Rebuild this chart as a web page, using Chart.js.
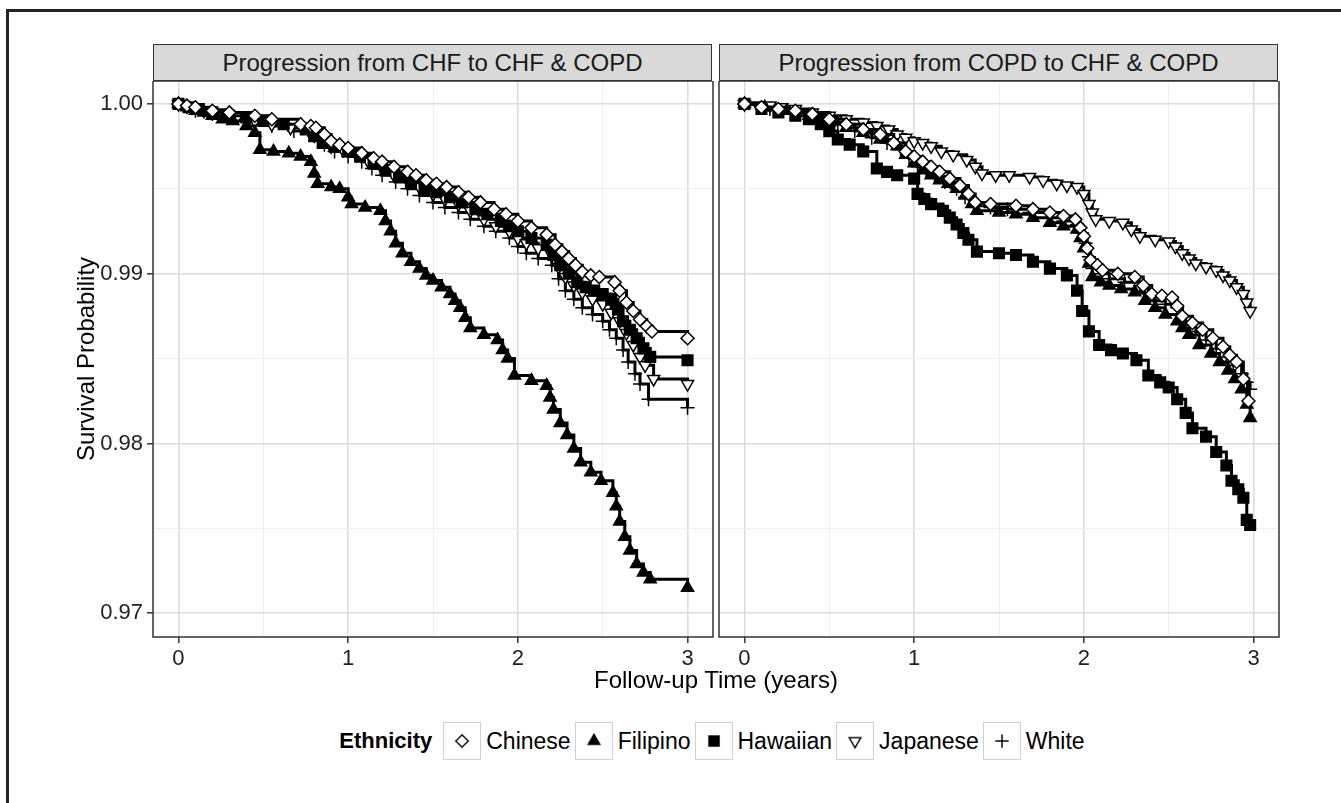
<!DOCTYPE html>
<html>
<head>
<meta charset="utf-8">
<script src="https://cdn.jsdelivr.net/npm/chart.js@4.4.1/dist/chart.umd.min.js"></script>
<style>
  body { margin: 0; background: #fff; font-family: "Liberation Sans", Arial, sans-serif; }
  #wrap { position: relative; width: 1341px; height: 803px; overflow: hidden; }
  #frame { position: absolute; left: 6px; top: 9px; width: 1400px; height: 900px;
           border-left: 3px solid #222; border-top: 3px solid #222; }
  .strip { position: absolute; top: 44px; height: 35px; background: #d9d9d9;
           border: 1.5px solid #333; text-align: center; line-height: 36px;
           font-size: 24px; color: #1a1a1a; }
  canvas { position: absolute; }
  #xTitle { position: absolute; left: 153px; width: 1126px; top: 666px; text-align: center;
            font-size: 24px; color: #000; }
  #yTitle { position: absolute; left: 86px; top: 359px; transform: translate(-50%, -50%) rotate(-90deg);
            font-size: 24px; white-space: nowrap; color: #000; }
  #legend { position: absolute; left: 0; width: 1428px; top: 722px; display: flex;
            justify-content: center; align-items: center; font-size: 23px; }
  #legend .title { font-weight: bold; margin-right: 11px; font-size: 22px; }
  #legend .key { width: 38px; height: 38px; border: 1px solid #d0d0d0; box-sizing: border-box; }
  #legend .lab { margin: 0 4px 0 5px; }
</style>
</head>
<body>
<div id="wrap">
  <div id="frame"></div>
  <div class="strip" id="strip0" style="left:153px; width:557px;"></div>
  <div class="strip" id="strip1" style="left:719px; width:557px;"></div>
  <canvas id="chfChart" width="716" height="600" style="left:0; top:81px;"></canvas>
  <canvas id="copdChart" width="600" height="600" style="left:716px; top:81px;"></canvas>
  <div id="xTitle">Follow-up Time (years)</div>
  <div id="yTitle">Survival Probability</div>
  <div id="legend"></div>
</div>
<script>
const panelTitles = ['Progression from CHF to CHF & COPD', 'Progression from COPD to CHF & COPD'];
const ethnicities = ['Chinese', 'Filipino', 'Hawaiian', 'Japanese', 'White'];
const legendTitle = 'Ethnicity';

// CHF -> CHF & COPD (years, survival probability)
const chfChineseT = [0, 0.05, 0.1, 0.2, 0.3, 0.45, 0.55, 0.72, 0.78, 0.81, 0.86, 0.9, 0.95, 1.0, 1.08, 1.15, 1.2, 1.27, 1.35, 1.4, 1.46, 1.52, 1.58, 1.65, 1.71, 1.78, 1.86, 1.93, 2.0, 2.08, 2.17, 2.22, 2.26, 2.3, 2.34, 2.38, 2.43, 2.48, 2.57, 2.6, 2.64, 2.68, 2.72, 2.76, 2.79, 3.0];
const chfChineseS = [1.0, 0.9999, 0.9998, 0.9996, 0.9995, 0.9993, 0.9991, 0.9988, 0.9987, 0.9986, 0.9982, 0.9978, 0.9976, 0.9974, 0.9971, 0.9968, 0.9966, 0.9963, 0.9960, 0.9958, 0.9955, 0.9953, 0.9951, 0.9948, 0.9945, 0.9942, 0.9938, 0.9935, 0.9931, 0.9927, 0.9923, 0.9917, 0.9913, 0.9909, 0.9905, 0.9901, 0.9899, 0.9898, 0.9895, 0.9890, 0.9883, 0.9878, 0.9873, 0.9869, 0.9866, 0.9862];
const chfFilipinoT = [0, 0.05, 0.1, 0.15, 0.2, 0.26, 0.32, 0.4, 0.45, 0.48, 0.56, 0.65, 0.72, 0.78, 0.8, 0.82, 0.9, 0.95, 1.0, 1.02, 1.1, 1.19, 1.22, 1.25, 1.28, 1.32, 1.37, 1.42, 1.46, 1.5, 1.55, 1.6, 1.63, 1.66, 1.69, 1.72, 1.8, 1.88, 1.91, 1.94, 1.98, 2.08, 2.17, 2.19, 2.21, 2.25, 2.29, 2.33, 2.37, 2.43, 2.49, 2.56, 2.58, 2.6, 2.63, 2.66, 2.7, 2.74, 2.78, 3.0];
const chfFilipinoS = [1.0, 0.9998, 0.9996, 0.9995, 0.9993, 0.9991, 0.9990, 0.9987, 0.9983, 0.9973, 0.9972, 0.9971, 0.9969, 0.9966, 0.9959, 0.9953, 0.9951, 0.9950, 0.9945, 0.9941, 0.9939, 0.9937, 0.9931, 0.9925, 0.9918, 0.9912, 0.9907, 0.9903, 0.9899, 0.9896, 0.9892, 0.9888, 0.9884, 0.9880, 0.9874, 0.9868, 0.9864, 0.9861, 0.9855, 0.9850, 0.9840, 0.9837, 0.9834, 0.9827, 0.9820, 0.9812, 0.9805, 0.9797, 0.9789, 0.9783, 0.9778, 0.9771, 0.9763, 0.9754, 0.9745, 0.9737, 0.9729, 0.9724, 0.9720, 0.9715];
const chfHawaiianT = [0, 0.06, 0.12, 0.2, 0.3, 0.4, 0.5, 0.62, 0.75, 0.8, 0.85, 0.92, 1.0, 1.07, 1.15, 1.22, 1.3, 1.37, 1.45, 1.52, 1.6, 1.67, 1.75, 1.82, 1.9, 1.95, 2.0, 2.08, 2.17, 2.21, 2.25, 2.3, 2.35, 2.4, 2.45, 2.5, 2.55, 2.59, 2.62, 2.66, 2.7, 2.74, 2.78, 3.0];
const chfHawaiianS = [1.0, 0.9998, 0.9997, 0.9995, 0.9993, 0.9992, 0.9990, 0.9988, 0.9985, 0.9981, 0.9977, 0.9975, 0.9972, 0.9969, 0.9965, 0.9961, 0.9957, 0.9954, 0.9950, 0.9948, 0.9945, 0.9942, 0.9938, 0.9935, 0.9931, 0.9928, 0.9925, 0.9921, 0.9917, 0.9911, 0.9905, 0.9900, 0.9895, 0.9892, 0.9890, 0.9888, 0.9885, 0.9879, 0.9872, 0.9867, 0.9862, 0.9856, 0.9851, 0.9849];
const chfJapaneseT = [0, 0.08, 0.15, 0.25, 0.35, 0.45, 0.55, 0.66, 0.78, 0.84, 0.9, 0.97, 1.05, 1.12, 1.2, 1.27, 1.35, 1.42, 1.5, 1.57, 1.65, 1.72, 1.8, 1.87, 1.95, 2.0, 2.05, 2.12, 2.2, 2.24, 2.28, 2.33, 2.38, 2.44, 2.5, 2.55, 2.6, 2.64, 2.68, 2.72, 2.75, 2.8, 3.0];
const chfJapaneseS = [1.0, 0.9998, 0.9996, 0.9995, 0.9993, 0.9990, 0.9988, 0.9986, 0.9983, 0.9979, 0.9975, 0.9973, 0.9970, 0.9966, 0.9962, 0.9958, 0.9955, 0.9951, 0.9947, 0.9944, 0.9941, 0.9937, 0.9932, 0.9928, 0.9925, 0.9921, 0.9918, 0.9915, 0.9911, 0.9904, 0.9898, 0.9893, 0.9889, 0.9885, 0.9882, 0.9877, 0.9872, 0.9865, 0.9858, 0.9851, 0.9846, 0.9838, 0.9835];
const chfWhiteT = [0, 0.05, 0.1, 0.2, 0.3, 0.42, 0.55, 0.68, 0.8, 0.86, 0.92, 1.0, 1.08, 1.14, 1.2, 1.28, 1.35, 1.42, 1.5, 1.57, 1.65, 1.72, 1.8, 1.87, 1.95, 2.0, 2.05, 2.12, 2.2, 2.24, 2.28, 2.33, 2.38, 2.44, 2.5, 2.54, 2.58, 2.62, 2.65, 2.69, 2.72, 2.77, 3.0];
const chfWhiteS = [1.0, 0.9998, 0.9996, 0.9994, 0.9992, 0.9990, 0.9987, 0.9984, 0.9981, 0.9976, 0.9972, 0.9969, 0.9966, 0.9962, 0.9958, 0.9954, 0.9950, 0.9946, 0.9942, 0.9939, 0.9936, 0.9932, 0.9928, 0.9925, 0.9921, 0.9916, 0.9912, 0.9909, 0.9905, 0.9897, 0.9890, 0.9885, 0.9880, 0.9876, 0.9872, 0.9867, 0.9862, 0.9855, 0.9848, 0.9841, 0.9835, 0.9826, 0.9821];

// COPD -> CHF & COPD
const copdChineseT = [0, 0.1, 0.2, 0.3, 0.4, 0.5, 0.6, 0.7, 0.8, 0.88, 0.95, 1.0, 1.05, 1.1, 1.15, 1.21, 1.27, 1.32, 1.36, 1.45, 1.6, 1.7, 1.8, 1.88, 1.95, 1.98, 2.0, 2.02, 2.04, 2.08, 2.11, 2.2, 2.3, 2.35, 2.4, 2.46, 2.52, 2.55, 2.58, 2.64, 2.7, 2.76, 2.82, 2.86, 2.9, 2.94, 2.97];
const copdChineseS = [1.0, 0.9998, 0.9997, 0.9996, 0.9994, 0.9991, 0.9988, 0.9985, 0.9982, 0.9977, 0.9972, 0.9969, 0.9966, 0.9963, 0.9960, 0.9956, 0.9952, 0.9947, 0.9942, 0.9941, 0.9940, 0.9938, 0.9936, 0.9934, 0.9932, 0.9927, 0.9922, 0.9915, 0.9908, 0.9905, 0.9902, 0.9900, 0.9898, 0.9893, 0.9888, 0.9887, 0.9886, 0.9881, 0.9875, 0.9871, 0.9867, 0.9862, 0.9857, 0.9852, 0.9848, 0.9838, 0.9825];
const copdFilipinoT = [0, 0.12, 0.25, 0.38, 0.5, 0.6, 0.7, 0.8, 0.9, 0.95, 1.0, 1.05, 1.1, 1.15, 1.2, 1.25, 1.3, 1.34, 1.37, 1.5, 1.6, 1.7, 1.8, 1.88, 1.96, 1.98, 2.0, 2.03, 2.05, 2.1, 2.15, 2.22, 2.3, 2.36, 2.42, 2.48, 2.55, 2.58, 2.62, 2.68, 2.75, 2.8, 2.85, 2.89, 2.93, 2.96, 2.98];
const copdFilipinoS = [1.0, 0.9998, 0.9996, 0.9993, 0.9989, 0.9986, 0.9983, 0.9979, 0.9975, 0.9970, 0.9965, 0.9961, 0.9958, 0.9955, 0.9953, 0.9950, 0.9946, 0.9941, 0.9937, 0.9936, 0.9935, 0.9933, 0.9930, 0.9928, 0.9926, 0.9921, 0.9915, 0.9906, 0.9898, 0.9895, 0.9893, 0.9891, 0.9889, 0.9884, 0.9880, 0.9876, 0.9872, 0.9868, 0.9864, 0.9858, 0.9853, 0.9848, 0.9843, 0.9838, 0.9832, 0.9823, 0.9815];
const copdHawaiianT = [0, 0.1, 0.2, 0.3, 0.38, 0.45, 0.5, 0.55, 0.62, 0.7, 0.78, 0.84, 0.9, 1.0, 1.02, 1.06, 1.1, 1.17, 1.21, 1.25, 1.29, 1.32, 1.37, 1.5, 1.6, 1.7, 1.8, 1.9, 1.96, 1.99, 2.03, 2.09, 2.16, 2.23, 2.31, 2.38, 2.45, 2.5, 2.55, 2.6, 2.64, 2.72, 2.78, 2.84, 2.87, 2.91, 2.94, 2.96, 2.98];
const copdHawaiianS = [1.0, 0.9997, 0.9995, 0.9993, 0.9991, 0.9988, 0.9984, 0.9979, 0.9976, 0.9972, 0.9962, 0.9960, 0.9958, 0.9956, 0.9947, 0.9944, 0.9941, 0.9937, 0.9933, 0.9929, 0.9924, 0.9920, 0.9913, 0.9912, 0.9911, 0.9907, 0.9903, 0.9899, 0.9890, 0.9878, 0.9866, 0.9858, 0.9855, 0.9853, 0.9849, 0.9840, 0.9836, 0.9833, 0.9826, 0.9818, 0.9809, 0.9804, 0.9795, 0.9787, 0.9778, 0.9773, 0.9768, 0.9755, 0.9752];
const copdJapaneseT = [0, 0.08, 0.15, 0.22, 0.3, 0.4, 0.5, 0.6, 0.7, 0.78, 0.85, 0.9, 0.95, 1.0, 1.05, 1.1, 1.16, 1.23, 1.31, 1.36, 1.4, 1.48, 1.56, 1.68, 1.76, 1.84, 1.9, 1.96, 2.0, 2.03, 2.05, 2.07, 2.15, 2.23, 2.28, 2.33, 2.42, 2.5, 2.54, 2.58, 2.62, 2.66, 2.72, 2.78, 2.82, 2.86, 2.9, 2.94, 2.96, 2.98];
const copdJapaneseS = [1.0, 0.9999, 0.9999, 0.9998, 0.9997, 0.9995, 0.9993, 0.9991, 0.9989, 0.9987, 0.9985, 0.9982, 0.9980, 0.9978, 0.9977, 0.9975, 0.9972, 0.9970, 0.9967, 0.9963, 0.9959, 0.9958, 0.9958, 0.9957, 0.9955, 0.9953, 0.9952, 0.9951, 0.9947, 0.9941, 0.9936, 0.9932, 0.9931, 0.9930, 0.9926, 0.9922, 0.9920, 0.9919, 0.9916, 0.9912, 0.9909, 0.9906, 0.9904, 0.9902, 0.9899, 0.9896, 0.9892, 0.9888, 0.9883, 0.9878];
const copdWhiteT = [0, 0.15, 0.3, 0.42, 0.55, 0.65, 0.75, 0.84, 0.92, 0.97, 1.02, 1.07, 1.12, 1.18, 1.25, 1.3, 1.35, 1.45, 1.55, 1.68, 1.8, 1.88, 1.96, 1.99, 2.01, 2.03, 2.05, 2.1, 2.15, 2.24, 2.33, 2.38, 2.42, 2.48, 2.55, 2.58, 2.6, 2.66, 2.72, 2.78, 2.84, 2.88, 2.93, 2.96, 2.98];
const copdWhiteS = [1.0, 0.9997, 0.9995, 0.9992, 0.9988, 0.9984, 0.9980, 0.9977, 0.9973, 0.9968, 0.9963, 0.9960, 0.9957, 0.9954, 0.9950, 0.9945, 0.9940, 0.9939, 0.9938, 0.9936, 0.9933, 0.9931, 0.9929, 0.9924, 0.9918, 0.9910, 0.9903, 0.9900, 0.9897, 0.9895, 0.9893, 0.9888, 0.9884, 0.9882, 0.9880, 0.9875, 0.9870, 0.9866, 0.9861, 0.9856, 0.9851, 0.9846, 0.9841, 0.9836, 0.9832];

const xTicks = [0, 1, 2, 3];
const yTicks = [0.97, 0.98, 0.99, 1.00];

const FONT = '"Liberation Sans", Arial, sans-serif';

// marker look per ethnicity (ggplot shapes)
const markers = {
    Chinese:  { pointStyle: 'rectRot',  radius: 6.5, fill: '#fff', rotation: 0 },
    Filipino: { pointStyle: 'triangle', radius: 7,   fill: '#000', rotation: 0 },
    Hawaiian: { pointStyle: 'rect',     radius: 7.5, fill: '#000', rotation: 0 },
    Japanese: { pointStyle: 'triangle', radius: 7,   fill: '#fff', rotation: 180 },
    White:    { pointStyle: 'cross',    radius: 7,   fill: '#000', rotation: 0 }
};

function pts(t, s) {
    return t.map((x, i) => ({ x: x, y: s[i] }));
}

function makeDatasets(list) {
    return list.map(([name, t, s]) => {
        const m = markers[name];
        return {
            label: name,
            data: pts(t, s),
            showLine: true,
            stepped: 'before',
            borderColor: '#000',
            borderWidth: 3,
            pointStyle: m.pointStyle,
            pointRadius: m.radius,
            pointRotation: m.rotation,
            pointBackgroundColor: m.fill,
            pointBorderColor: '#000',
            pointBorderWidth: 1.5,
            pointHoverRadius: m.radius
        };
    });
}

const isMajor = v => Math.abs(v * 100 - Math.round(v * 100)) < 1e-6;
const isMajorX = v => Math.abs(v - Math.round(v)) < 1e-7;

// full box around the panel
const panelBorder = {
    id: 'panelBorder',
    afterDraw(chart) {
        const a = chart.chartArea, ctx = chart.ctx;
        ctx.save();
        ctx.strokeStyle = '#333';
        ctx.lineWidth = 1.5;
        ctx.strokeRect(a.left, a.top, a.right - a.left, a.bottom - a.top);
        ctx.restore();
    }
};

function makeOptions(showY, padRight, yWidth) {
    return {
        responsive: false,
        animation: false,
        layout: { autoPadding: false, padding: { left: 0, right: padRight, top: 0, bottom: 0 } },
        plugins: { legend: { display: false }, tooltip: { enabled: false } },
        scales: {
            x: {
                type: 'linear',
                min: -0.15, max: 3.15,
                afterFit: s => { s.height = 44; s.paddingLeft = 0; s.paddingRight = 0; },
                ticks: {
                    stepSize: 0.5, includeBounds: false, autoSkip: false, maxRotation: 0,
                    padding: 3, color: '#222',
                    font: { family: FONT, size: 22 },
                    callback: v => (isMajorX(v) && xTicks.includes(Math.round(v))) ? String(Math.round(v)) : ''
                },
                grid: {
                    color: c => isMajorX(c.tick.value) ? '#dcdcdc' : '#efefef',
                    lineWidth: c => isMajorX(c.tick.value) ? 1.6 : 1,
                    tickColor: c => isMajorX(c.tick.value) ? '#333' : 'rgba(0,0,0,0)',
                    tickLength: 6, tickWidth: 1.5
                },
                border: { display: false }
            },
            y: {
                type: 'linear',
                min: 0.9686, max: 1.00135,
                afterFit: s => { s.width = yWidth; s.paddingTop = 0; s.paddingBottom = 0; },
                ticks: {
                    display: showY,
                    stepSize: 0.005, includeBounds: false, autoSkip: false,
                    padding: 4, color: '#222',
                    font: { family: FONT, size: 22 },
                    callback: v => {
                        const hit = yTicks.find(t => Math.abs(t - v) < 1e-7);
                        return hit !== undefined ? hit.toFixed(2) : '';
                    }
                },
                grid: {
                    color: c => isMajor(c.tick.value) ? '#dcdcdc' : '#efefef',
                    lineWidth: c => isMajor(c.tick.value) ? 1.6 : 1,
                    tickColor: c => (showY && isMajor(c.tick.value)) ? '#333' : 'rgba(0,0,0,0)',
                    drawTicks: showY,
                    tickLength: 6, tickWidth: 1.5
                },
                border: { display: false }
            }
        }
    };
}

document.getElementById('strip0').textContent = panelTitles[0];
document.getElementById('strip1').textContent = panelTitles[1];

new Chart(document.getElementById('chfChart'), {
    type: 'scatter',
    data: {
        datasets: makeDatasets([
            ['Chinese', chfChineseT, chfChineseS],
            ['Filipino', chfFilipinoT, chfFilipinoS],
            ['Hawaiian', chfHawaiianT, chfHawaiianS],
            ['Japanese', chfJapaneseT, chfJapaneseS],
            ['White', chfWhiteT, chfWhiteS]
        ])
    },
    options: makeOptions(true, 3, 153),
    plugins: [panelBorder]
});

new Chart(document.getElementById('copdChart'), {
    type: 'scatter',
    data: {
        datasets: makeDatasets([
            ['Chinese', copdChineseT, copdChineseS],
            ['Filipino', copdFilipinoT, copdFilipinoS],
            ['Hawaiian', copdHawaiianT, copdHawaiianS],
            ['Japanese', copdJapaneseT, copdJapaneseS],
            ['White', copdWhiteT, copdWhiteS]
        ])
    },
    options: makeOptions(false, 37, 3),
    plugins: [panelBorder]
});

// legend built from the same marker styles
const legend = document.getElementById('legend');
const ttl = document.createElement('span');
ttl.className = 'title';
ttl.textContent = legendTitle;
legend.appendChild(ttl);
ethnicities.forEach(name => {
    const key = document.createElement('canvas');
    key.width = 38; key.height = 38;
    key.className = 'key';
    key.style.position = 'static';
    const kctx = key.getContext('2d');
    const m = markers[name];
    kctx.fillStyle = m.fill;
    kctx.strokeStyle = '#000';
    kctx.lineWidth = 1.5;
    Chart.helpers.drawPoint(kctx, { pointStyle: m.pointStyle, radius: m.radius, rotation: m.rotation, borderWidth: 1.5 }, 19, 19);
    legend.appendChild(key);
    const lab = document.createElement('span');
    lab.className = 'lab';
    lab.textContent = name;
    legend.appendChild(lab);
});
</script>
</body>
</html>
